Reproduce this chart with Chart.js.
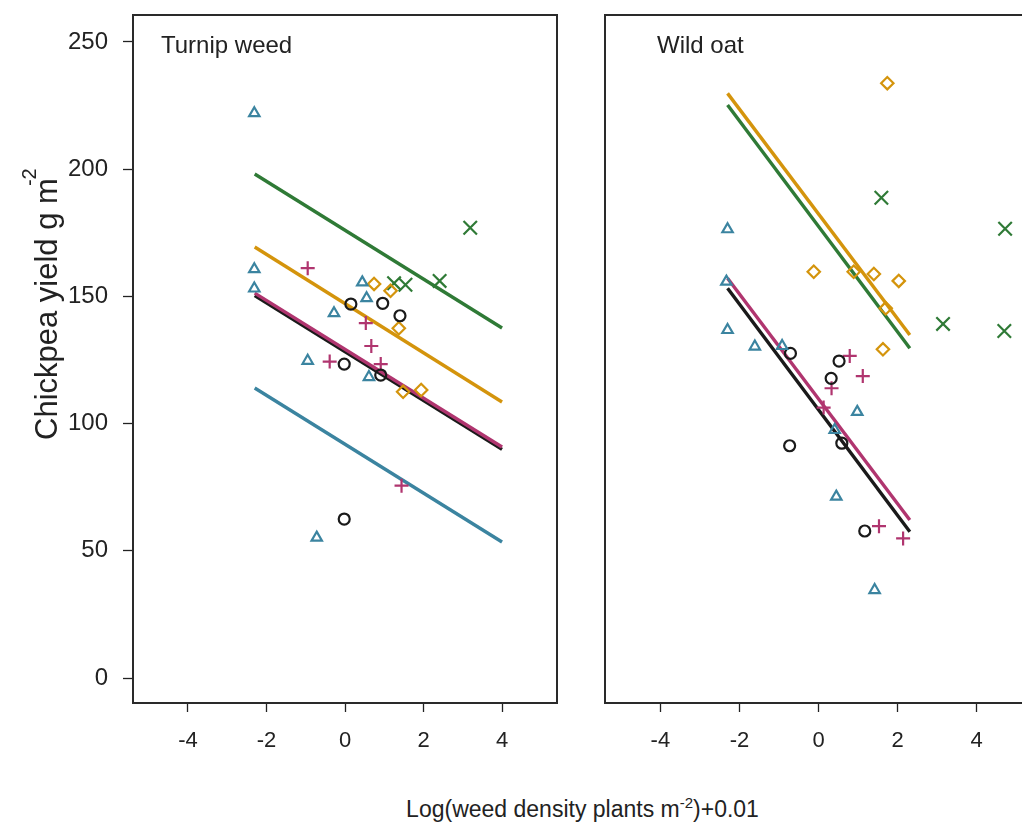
<!DOCTYPE html>
<html>
<head>
<meta charset="utf-8">
<script src="https://cdn.jsdelivr.net/npm/chart.js@4.4.1/dist/chart.umd.min.js"></script>
<style>
  body { margin: 0; background: #fff; overflow: hidden; }
  #wrap { position: relative; width: 1022px; height: 825px; overflow: hidden; background: #fff; }
  .panel { position: absolute; top: 0; height: 770px; }
  #xtitle {
    position: absolute; left: 0; width: 1165px; top: 795px; text-align: center;
    font: 23px "Liberation Sans", Arial, sans-serif; line-height: 28px; color: #222; white-space: nowrap;
  }
  #xtitle span { font-size: 15px; position: relative; top: -9px; line-height: 0; }
</style>
</head>
<body>
<div id="wrap">
  <div class="panel" style="left:0;width:570px"><canvas id="turnip"></canvas></div>
  <div class="panel" style="left:580px;width:470px"><canvas id="oat"></canvas></div>
  <div id="xtitle">Log(weed density plants m<span>-2</span>)+0.01</div>
</div>
<script>
const FONT = '"Liberation Sans", Arial, sans-serif';
const INK = "#222";
const GREEN = "#2f7a36";
const ORANGE = "#d4940c";
const MAGENTA = "#b0356f";
const TEAL = "#3b84a0";
const BLACK = "#1a1a1a";

// Turnip weed – body punktů [x, y]
const turnipTriangle = [[-2.31, 222.0], [-2.31, 160.7], [-2.31, 153.1], [0.44, 155.5], [0.55, 149.3], [-0.28, 143.4], [-0.95, 124.7], [0.61, 118.3], [-0.72, 55.2]];
const turnipCircle = [[0.15, 147.0], [0.96, 147.3], [1.40, 142.4], [-0.02, 123.4], [0.91, 119.1], [-0.02, 62.5]];
const turnipPlus = [[-0.95, 161.1], [0.53, 139.5], [0.67, 130.5], [-0.39, 124.4], [0.91, 123.4], [1.44, 75.6]];
const turnipDiamond = [[0.74, 154.9], [1.16, 152.2], [1.37, 137.5], [1.48, 112.5], [1.94, 113.2]];
const turnipCross = [[3.19, 177.0], [1.25, 155.2], [1.54, 154.6], [2.41, 156.1]];

// Turnip weed – regresní přímky (začátek, konec)
const turnipFitX = [-2.3, 4.0];
const turnipGreenFit = [198.1, 137.6];
const turnipOrangeFit = [169.4, 108.5];
const turnipMagentaFit = [151.3, 90.8];
const turnipBlackFit = [150.3, 89.9];
const turnipTealFit = [114.0, 53.5];

// Wild oat – body punktů [x, y]
const oatTriangle = [[-2.30, 176.4], [-2.33, 155.8], [-2.30, 136.8], [-1.61, 130.3], [-0.92, 130.5], [0.98, 104.6], [0.41, 97.5], [0.45, 71.3], [1.42, 34.6]];
const oatCircle = [[-0.71, 127.6], [0.52, 124.6], [0.32, 117.8], [0.59, 92.3], [-0.73, 91.3], [1.17, 57.8]];
const oatPlus = [[0.79, 126.6], [1.12, 118.7], [0.33, 113.9], [0.13, 106.3], [1.53, 59.7], [2.14, 54.9]];
const oatDiamond = [[1.74, 233.8], [-0.12, 159.7], [0.89, 159.7], [1.40, 158.8], [2.03, 156.1], [1.70, 145.3], [1.63, 129.2]];
const oatCross = [[1.59, 188.8], [4.72, 176.6], [3.15, 139.2], [4.70, 136.4]];

// Wild oat – regresní přímky
const oatFitX = [-2.3, 2.31];
const oatOrangeFit = [229.8, 134.8];
const oatGreenFit = [225.2, 129.6];
const oatMagentaFit = [157.1, 62.1];
const oatBlackFit = [153.2, 57.5];

const xTicks = [-4, -2, 0, 2, 4];
const yTicks = [0, 50, 100, 150, 200, 250];

function pointSet(pts, style, color, radius) {
  return {
    data: pts.map(([x, y]) => ({ x: x, y: y })),
    pointStyle: style,
    pointRadius: radius,
    borderColor: color,
    backgroundColor: "rgba(0,0,0,0)",
    pointBorderWidth: 2.2,
    showLine: false,
  };
}

function fitLine(xs, ys, color) {
  return {
    data: xs.map((x, i) => ({ x: x, y: ys[i] })),
    borderColor: color,
    borderWidth: 3.4,
    pointRadius: 0,
    showLine: true,
    fill: false,
  };
}

// rámeček kolem oblasti grafu + popisek panelu
const panelBox = {
  id: "panelBox",
  afterDraw(chart, args, opts) {
    const { ctx, chartArea: a } = chart;
    ctx.save();
    ctx.strokeStyle = "#2a2a2a";
    ctx.lineWidth = 2;
    ctx.strokeRect(a.left, a.top, a.right - a.left, a.bottom - a.top);
    ctx.fillStyle = INK;
    ctx.font = "24px " + FONT;
    ctx.textBaseline = "alphabetic";
    ctx.fillText(opts.text, a.left + opts.dx, a.top + 38);
    ctx.restore();
  },
};

// svislý popisek osy y (jen levý panel)
const yTitle = {
  id: "yTitle",
  afterDraw(chart) {
    const ctx = chart.ctx;
    ctx.save();
    ctx.translate(57, 440);
    ctx.rotate(-Math.PI / 2);
    ctx.fillStyle = INK;
    ctx.font = "31px " + FONT;
    ctx.textBaseline = "alphabetic";
    const main = "Chickpea yield g m";
    ctx.fillText(main, 0, 0);
    const w = ctx.measureText(main).width;
    ctx.font = "20px " + FONT;
    ctx.fillText("-2", w - 8, -21);
    ctx.restore();
  },
};

function makeChart(id, datasets, label, dx, showY, padding) {
  const extra = showY ? [panelBox, yTitle] : [panelBox];
  return new Chart(document.getElementById(id), {
    type: "scatter",
    data: { datasets: datasets },
    plugins: extra,
    options: {
      responsive: true,
      maintainAspectRatio: false,
      animation: false,
      layout: { padding: padding },
      scales: {
        x: {
          type: "linear",
          min: -5.4,
          max: 5.4,
          afterBuildTicks: (s) => { s.ticks = xTicks.map((v) => ({ value: v })); },
          afterFit: (s) => {
            s.height = 67;
            s.paddingLeft = 0;
            s.paddingRight = 0;
          },
          ticks: { color: INK, font: { family: FONT, size: 22 }, padding: 16, maxRotation: 0 },
          grid: { drawOnChartArea: false, tickLength: 9, color: INK, tickWidth: 1.3 },
          border: { display: false },
        },
        y: {
          type: "linear",
          display: showY,
          min: -9.8,
          max: 260.6,
          afterBuildTicks: (s) => { s.ticks = yTicks.map((v) => ({ value: v })); },
          afterFit: (s) => {
            s.width = showY ? 133 : 0;
            s.paddingTop = 0;
            s.paddingBottom = 0;
          },
          ticks: { color: INK, font: { family: FONT, size: 24 }, padding: 15 },
          grid: { drawOnChartArea: false, tickLength: 10, color: INK, tickWidth: 1.3 },
          border: { display: false },
        },
      },
      plugins: {
        legend: { display: false },
        tooltip: { enabled: false },
        panelBox: { text: label, dx: dx },
      },
    },
  });
}

makeChart("turnip", [
  pointSet(turnipTriangle, "triangle", TEAL, 6),
  pointSet(turnipCircle, "circle", BLACK, 5.5),
  pointSet(turnipPlus, "cross", MAGENTA, 7),
  pointSet(turnipDiamond, "rectRot", ORANGE, 6.2),
  pointSet(turnipCross, "crossRot", GREEN, 9.5),
  fitLine(turnipFitX, turnipGreenFit, GREEN),
  fitLine(turnipFitX, turnipOrangeFit, ORANGE),
  fitLine(turnipFitX, turnipMagentaFit, MAGENTA),
  fitLine(turnipFitX, turnipBlackFit, BLACK),
  fitLine(turnipFitX, turnipTealFit, TEAL),
], "Turnip weed", 28, true, { top: 15, right: 13 });

makeChart("oat", [
  pointSet(oatTriangle, "triangle", TEAL, 6),
  pointSet(oatCircle, "circle", BLACK, 5.5),
  pointSet(oatPlus, "cross", MAGENTA, 7),
  pointSet(oatDiamond, "rectRot", ORANGE, 6.2),
  pointSet(oatCross, "crossRot", GREEN, 9.5),
  fitLine(oatFitX, oatOrangeFit, ORANGE),
  fitLine(oatFitX, oatGreenFit, GREEN),
  fitLine(oatFitX, oatMagentaFit, MAGENTA),
  fitLine(oatFitX, oatBlackFit, BLACK),
], "Wild oat", 52, false, { top: 15, left: 25, right: 18 });
</script>
</body>
</html>
